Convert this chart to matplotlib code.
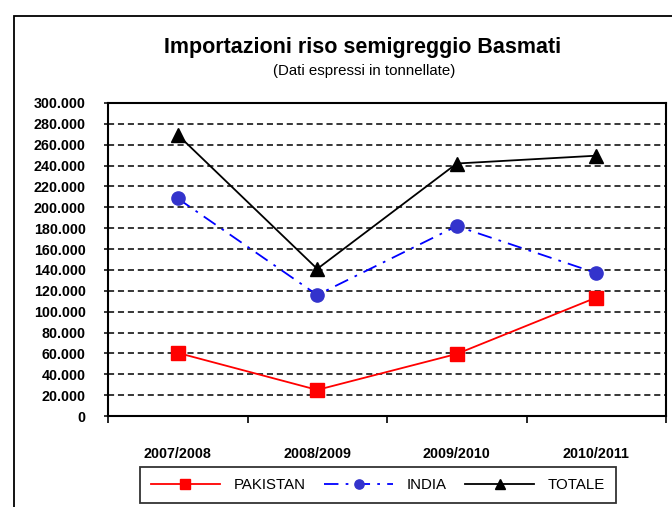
import matplotlib
matplotlib.use("Agg")
import matplotlib.pyplot as plt
from matplotlib.patches import Rectangle
from matplotlib.ticker import FuncFormatter, MultipleLocator, FixedLocator

plt.rcParams['font.family'] = ['Liberation Sans', 'DejaVu Sans']

categories = ["2007/2008", "2008/2009", "2009/2010", "2010/2011"]
pakistan = [60500, 25000, 59500, 113500]
india = [208500, 116000, 182000, 137000]
totale = [269500, 141000, 242000, 249500]

fig = plt.figure(figsize=(6.72, 5.07), dpi=100)
W, H = 672, 507
ax = fig.add_axes([108 / W, (H - 416) / H, (666 - 108) / W, (416 - 103) / H])

x = list(range(len(categories)))
ax.plot(x, pakistan, color="#FF0000", lw=1.3, marker="s", ms=9.5,
        mfc="#FF0000", mec="#FF0000", label="PAKISTAN", zorder=3)
ax.plot(x, india, color="#0000FF", lw=1.3, ls=(0, (8, 4, 1.5, 4)), marker="o",
        ms=9.5, mfc="#3333CC", mec="#3333CC", label="INDIA", zorder=3)
ax.plot(x, totale, color="black", lw=1.3, marker="^", ms=10,
        mfc="black", mec="black", label="TOTALE", zorder=3)

ax.set_xlim(-0.5, len(categories) - 0.5)
ax.set_ylim(0, 300000)
ax.yaxis.set_major_locator(MultipleLocator(20000))
ax.yaxis.set_major_formatter(FuncFormatter(lambda v, p: f"{int(v):,}".replace(",", ".")))
ax.grid(axis="y", color="black", ls=(0, (4, 2.5)), lw=1.1)
ax.set_axisbelow(True)

ax.set_xticks(x)
ax.set_xticklabels(categories, fontweight="bold", fontsize=10.3)
ax.tick_params(axis="x", which="major", length=0, pad=22)
ax.xaxis.set_minor_locator(FixedLocator([-0.5, 0.5, 1.5, 2.5, 3.5]))
ax.tick_params(axis="x", which="minor", length=5, width=1.2, direction="out")
ax.tick_params(axis="y", length=3, width=1.1, pad=13, labelsize=10.3)
for lab in ax.get_yticklabels():
    lab.set_fontweight("bold")
for s in ax.spines.values():
    s.set_linewidth(1.5)
    s.set_color("black")

fig.text(363 / W, 1 - 48 / H, "Importazioni riso semigreggio Basmati",
         ha="center", va="center", fontsize=15.5, fontweight="bold")
fig.text(364 / W, 1 - 71 / H, "(Dati espressi in tonnellate)",
         ha="center", va="center", fontsize=10.8)

leg = fig.legend(loc="center", bbox_to_anchor=(378 / W, 1 - 485 / H), ncol=3,
                 frameon=True, fancybox=False, edgecolor="black", fontsize=10.8,
                 handlelength=4.6, columnspacing=1.25, borderpad=0.75,
                 handletextpad=0.9, markerscale=0.7)
leg.get_frame().set_linewidth(1.3)

fig.patches.append(Rectangle((14 / W, -0.05), 1.2, 1 - 16 / H + 0.05,
                             transform=fig.transFigure, fill=False,
                             edgecolor="black", lw=1.3))

fig.savefig("out.png", dpi=100)
